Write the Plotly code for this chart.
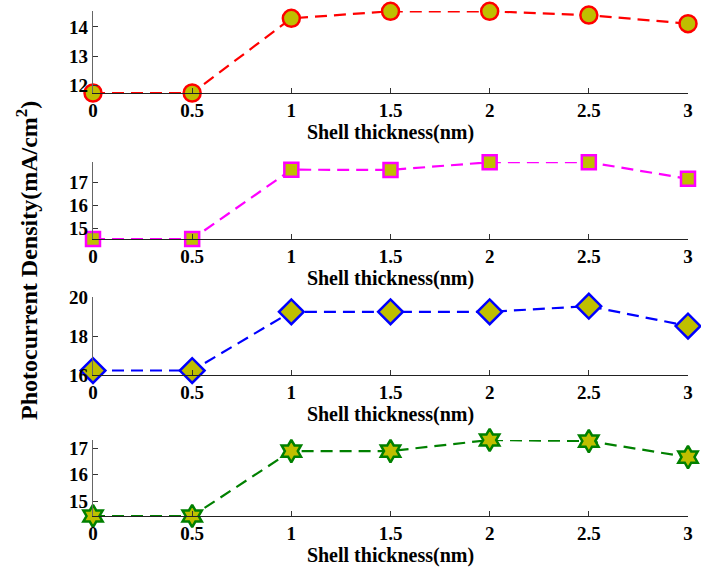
import plotly.graph_objects as go

thickness = [0, 0.5, 1, 1.5, 2, 2.5, 3]
x_ticks = [0, 0.5, 1, 1.5, 2, 2.5, 3]
x_tick_text = ["0", "0.5", "1", "1.5", "2", "2.5", "3"]

series1 = [11.75, 11.75, 14.29, 14.53, 14.53, 14.40, 14.11]
series2 = [14.56, 14.56, 17.53, 17.52, 17.85, 17.85, 17.14]
series3 = [16.23, 16.23, 19.24, 19.24, 19.24, 19.53, 18.51]
series4 = [14.43, 14.43, 16.90, 16.90, 17.32, 17.28, 16.67]

y_ticks = [[12, 13, 14], [15, 16, 17], [16, 18, 20], [15, 16, 17]]
y_ranges = [[11.75, 14.54], [14.56, 17.86], [16.0, 20.0], [14.43, 17.32]]

colors = ["#ff0000", "#ff00ff", "#0000ff", "#008000"]
symbols = ["circle", "square", "diamond", "hexagram"]
sizes = [17, 14, 19, 17]
fill = "#bfbf00"
all_series = [series1, series2, series3, series4]

W, H = 701, 568
x0, x1 = 93, 688
panels_px = [(11, 93), (162, 239), (297, 375), (440, 516)]

fig = go.Figure()
font_family = "Liberation Serif"
for i, (ys, c, s, sz) in enumerate(zip(all_series, colors, symbols, sizes)):
    n = i + 1
    xa = "x" if n == 1 else f"x{n}"
    ya = "y" if n == 1 else f"y{n}"
    fig.add_trace(go.Scatter(
        x=thickness, y=ys, mode="lines+markers", xaxis=xa, yaxis=ya,
        line=dict(color=c, width=2.2, dash="12px,7px"),
        marker=dict(symbol=s, size=sz, color=fill, line=dict(color=c, width=2.5)),
        cliponaxis=False, showlegend=False))
    top, bot = panels_px[i]
    xkey = "xaxis" if n == 1 else f"xaxis{n}"
    ykey = "yaxis" if n == 1 else f"yaxis{n}"
    fig.layout[xkey] = dict(
        domain=[x0 / W, x1 / W], anchor=ya, range=[0, 3], automargin=False,
        tickvals=x_ticks, ticktext=x_tick_text, ticks="inside", ticklen=5,
        tickcolor="#333", showline=True, linecolor="#222", linewidth=1.3,
        showgrid=False, zeroline=False,
        tickfont=dict(family=font_family, size=19, color="black", weight="bold"),
        title=dict(text="<b>Shell thickness(nm)</b>", standoff=0,
                   font=dict(family=font_family, size=20, color="black")))
    fig.layout[ykey] = dict(
        domain=[1 - bot / H, 1 - top / H], anchor=xa, range=y_ranges[i],
        automargin=False,
        tickvals=y_ticks[i], ticks="inside", ticklen=5, tickcolor="#333",
        showline=True, linecolor="#666", linewidth=1.3, showgrid=False,
        zeroline=False,
        tickfont=dict(family=font_family, size=19, color="black", weight="bold"))

fig.add_annotation(
    text="<b>Photocurrent Density(mA/cm<sup>2</sup>)</b>", textangle=-90,
    x=27 / W, y=1 - 261 / H, xref="paper", yref="paper", showarrow=False,
    xanchor="center", yanchor="middle",
    font=dict(family=font_family, size=24, color="black"))

fig.update_layout(width=W, height=H, margin=dict(l=0, r=0, t=0, b=0),
                  plot_bgcolor="white", paper_bgcolor="white")
fig.write_html("out.html")
